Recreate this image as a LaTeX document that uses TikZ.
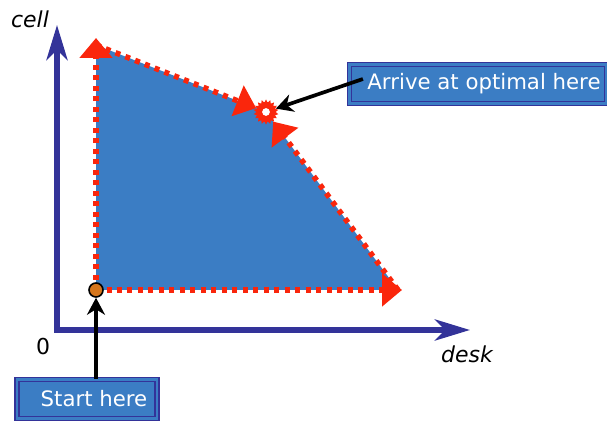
\documentclass[tikz,border=0pt]{standalone}
\usepackage{fontspec}
\setsansfont{DejaVu Sans}
\usepackage{tikz}
\usetikzlibrary{positioning,shapes.geometric,arrows.meta,calc}
\definecolor{AxisBlue}{RGB}{51,51,153}
\definecolor{RegionBlue}{RGB}{59,125,196}
\definecolor{PathRed}{RGB}{250,38,12}
\definecolor{DotOrange}{RGB}{214,118,28}
\tikzset{
	axisline/.style={AxisBlue,line width=3.2pt,line join=miter,{Stealth[width=0.42cm,length=0.7cm,inset=0.2cm]}-{Stealth[width=0.42cm,length=0.7cm,inset=0.2cm]}},
	redpath/.style={PathRed,line width=0.11cm,dash pattern=on 0.1cm off 0.11cm,-{Triangle[width=0.64cm,length=0.4cm]}},
	infobox/.style={rectangle,draw=AxisBlue,line width=0.7pt,double=RegionBlue,double distance=1.6pt,fill=RegionBlue,
		text=white,font=\sffamily\fontsize{12.1}{14}\selectfont,minimum height=0.78cm,inner sep=2pt},
	callout/.style={black,line width=2.1pt,-{Stealth[width=0.36cm,length=0.34cm]}}
}
\begin{document}
\begin{tikzpicture}[x=0.02cm,y=-0.02cm]
	\useasboundingbox (0,0) rectangle (607,421);
	\coordinate (O) at (57,330);
	\coordinate (ytip) at (57,25);
	\coordinate (xtip) at (470,330);
	\coordinate (start) at (96,290);
	\coordinate (tl) at (96,45);
	\coordinate (br) at (398,290);
	\fill[RegionBlue] (start) -- (tl) -- (266,112) -- (br) -- cycle;
	\node [star,star points=18,star point ratio=1.3,minimum size=0.5cm,inner sep=0pt,
	fill=PathRed,name=opt] at (266,112) {};
	\fill[white] (opt.center) circle (2.2pt);
	\draw[redpath] (start) -- ([yshift=0.14cm]tl);
	\draw[redpath] (tl) -- (opt);
	\draw[redpath] (start) -- ([xshift=0.08cm]br);
	\draw[redpath] (br) -- (opt);
	\draw[axisline] (ytip) -- (O) -- (xtip);
	\node [circle,draw=black,line width=0.9pt,fill=DotOrange,minimum size=0.28cm,inner sep=0pt,name=s] at (start) {};
	\node [font=\sffamily\itshape\fontsize{12.5}{14}\selectfont] at (30,19) {cell};
	\node [font=\sffamily\fontsize{12.5}{14}\selectfont] at (43,347) {0};
	\node [font=\sffamily\itshape\fontsize{12.5}{14}\selectfont] at (467,354) {desk};
	\node [infobox,minimum width=5.14cm,name=obox] at (478,84) {\hspace{0.24cm}Arrive at optimal here};
	\node [infobox,minimum width=2.8cm,name=sbox] at (87,399) {\hspace{0.28cm}Start here};
	\draw[callout] ([xshift=0.28cm,yshift=0.1cm]obox.west) -- (opt);
	\draw[callout] (sbox.north -| s) -- (s);
\end{tikzpicture}
\end{document}
